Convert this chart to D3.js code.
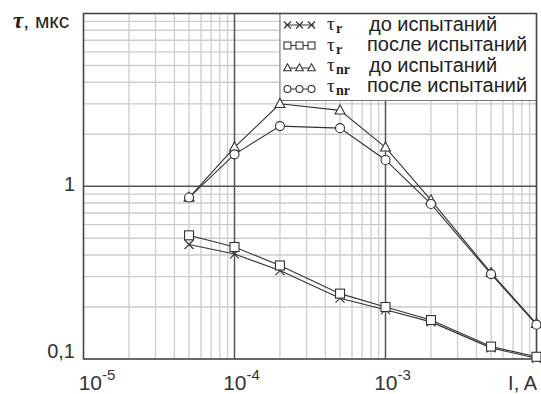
<!DOCTYPE html>
<html><head><meta charset="utf-8">
<script src="https://cdn.jsdelivr.net/npm/d3@7"></script>
<style>html,body{margin:0;padding:0;background:#fff;}svg{display:block;}</style>
</head><body>
<script>
const currents = [5e-5, 1e-4, 2e-4, 5e-4, 1e-3, 2e-3, 5e-3, 1e-2];
const tauRBefore  = [0.46, 0.405, 0.325, 0.225, 0.193, 0.164, 0.116, 0.101];
const tauRAfter   = [0.52, 0.445, 0.348, 0.239, 0.200, 0.168, 0.118, 0.103];
const tauNrBefore = [0.86, 1.68, 3.0, 2.75, 1.68, 0.83, 0.315, 0.16];
const tauNrAfter  = [0.86, 1.53, 2.23, 2.17, 1.42, 0.79, 0.31, 0.158];
const xTickExp = [-5, -4, -3];
const yTicks = [0.1, 1];
const yTickLabels = ["0,1", "1"];
const legendSub = ["r", "r", "nr", "nr"];
const legendText = ["до испытаний", "после испытаний", "до испытаний", "после испытаний"];
const markerKinds = ["x", "square", "triangle", "circle"];

const W = 541, H = 394;
const svg = d3.select("body").append("svg").attr("width", W).attr("height", H);
const x = d3.scaleLog().domain([1e-5, 1e-2]).range([83.5, 536.5]);
const y = d3.scaleLog().domain([0.1, 10]).range([359, 13.5]);
const [x0, x1] = x.range(); const [y0, y1] = y.range();

// minor grid
const minorX = [], minorY = [];
for (let e = -5; e < -2; e++) for (let k = 2; k <= 9; k++) minorX.push(k * Math.pow(10, e));
for (let e = -1; e < 1; e++) for (let k = 2; k <= 9; k++) minorY.push(k * Math.pow(10, e));
const g = svg.append("g");
g.selectAll(".mx").data(minorX).join("line")
  .attr("x1", d => x(d)).attr("x2", d => x(d)).attr("y1", y1).attr("y2", y0)
  .attr("stroke", "#cdcdcd").attr("stroke-width", 1.3);
g.selectAll(".my").data(minorY).join("line")
  .attr("y1", d => y(d)).attr("y2", d => y(d)).attr("x1", x0).attr("x2", x1)
  .attr("stroke", "#cdcdcd").attr("stroke-width", 1.3);
// major grid
g.selectAll(".Mx").data([1e-4, 1e-3]).join("line")
  .attr("x1", d => x(d)).attr("x2", d => x(d)).attr("y1", y1).attr("y2", y0)
  .attr("stroke", "#555").attr("stroke-width", 1.5);
g.selectAll(".My").data([1]).join("line")
  .attr("y1", d => y(d)).attr("y2", d => y(d)).attr("x1", x0).attr("x2", x1)
  .attr("stroke", "#555").attr("stroke-width", 1.5);

// legend background (covers grid)
const lg = svg.append("g");
lg.append("rect").attr("x", 280).attr("y", y1).attr("width", x1 - 280).attr("height", 87)
  .attr("fill", "#fff").attr("stroke", "#777").attr("stroke-width", 1);

// frame
svg.append("rect").attr("x", x0).attr("y", y1).attr("width", x1 - x0).attr("height", y0 - y1)
  .attr("fill", "none").attr("stroke", "#444").attr("stroke-width", 1.6);

function drawMarker(sel, kind, cx, cy, s) {
  const st = {stroke: "#333", "stroke-width": 1.1};
  let el;
  if (kind === "x") {
    el = sel.append("path").attr("d", `M${cx-s/2},${cy-s/2}L${cx+s/2},${cy+s/2}M${cx-s/2},${cy+s/2}L${cx+s/2},${cy-s/2}`).attr("fill", "none");
  } else if (kind === "square") {
    el = sel.append("rect").attr("x", cx - s/2).attr("y", cy - s/2).attr("width", s).attr("height", s).attr("fill", "#fff");
  } else if (kind === "triangle") {
    el = sel.append("path").attr("d", `M${cx},${cy-s*0.6}L${cx+s*0.55},${cy+s*0.4}L${cx-s*0.55},${cy+s*0.4}Z`).attr("fill", "#fff");
  } else {
    el = sel.append("circle").attr("cx", cx).attr("cy", cy).attr("r", s/2).attr("fill", "#fff");
  }
  for (const k in st) el.attr(k, st[k]);
}

const series = [tauRBefore, tauRAfter, tauNrBefore, tauNrAfter];
const line = d3.line().x((d, i) => x(currents[i])).y(d => y(d));
const pg = svg.append("g");
series.forEach(s => {
  pg.append("path").attr("d", line(s)).attr("fill", "none").attr("stroke", "#333").attr("stroke-width", 1.1);
});
series.forEach((s, si) => {
  s.forEach((v, i) => drawMarker(pg, markerKinds[si], x(currents[i]), y(v), 9));
});

// legend entries
const rowY = [25, 45.5, 68, 89];
const baseY = [31, 51, 72, 92];
const tauY = [30, 50.5, 71, 91.5];
const serif = "Liberation Serif, Times New Roman, serif";
markerKinds.forEach((k, i) => {
  lg.append("line").attr("x1", 285).attr("x2", 314).attr("y1", rowY[i]).attr("y2", rowY[i]).attr("stroke", "#333").attr("stroke-width", 1);
  [287.5, 299.5, 311.5].forEach(cx => drawMarker(lg, k, cx, rowY[i], 7));
  lg.append("text").attr("x", 327).attr("y", tauY[i])
    .attr("font-family", serif).attr("font-size", 19).attr("fill", "#222").text("τ");
  lg.append("text").attr("x", 336).attr("y", tauY[i] + 3)
    .attr("font-family", serif).attr("font-size", 14).attr("font-weight", "bold").attr("fill", "#222")
    .text(legendSub[i]);
  lg.append("text").attr("x", i % 2 === 0 ? 369 : 367).attr("y", baseY[i])
    .attr("font-family", "Liberation Sans, Arial, sans-serif").attr("font-size", 20).attr("fill", "#222")
    .text(legendText[i]);
});

// axis labels
const font = "Liberation Sans, Arial, sans-serif";
yTicks.forEach((v, i) => {
  svg.append("text").attr("x", 75).attr("y", Math.min(y(v) + 5, 358)).attr("text-anchor", "end")
    .attr("font-family", font).attr("font-size", 20).attr("fill", "#333").text(yTickLabels[i]);
});
xTickExp.forEach(e => {
  const cx = Math.max(x(Math.pow(10, e)) + 7, 97);
  const t = svg.append("text").attr("x", cx).attr("y", 390).attr("text-anchor", "middle")
    .attr("font-family", font).attr("font-size", 21).attr("fill", "#333");
  t.append("tspan").text("10");
  t.append("tspan").attr("dy", -10).attr("font-size", 15).text("-" + (-e));
});
svg.append("text").attr("x", 537).attr("y", 390).attr("text-anchor", "end")
  .attr("font-family", font).attr("font-size", 20).attr("fill", "#333").text("I, A");
const yl = svg.append("text").attr("x", 13).attr("y", 28)
  .attr("font-family", font).attr("font-size", 21).attr("fill", "#222");
yl.append("tspan").attr("font-family", serif).attr("font-style", "italic").attr("font-weight", "bold").attr("font-size", 23).text("τ");
yl.append("tspan").text(", мкс");
</script>
</body></html>
